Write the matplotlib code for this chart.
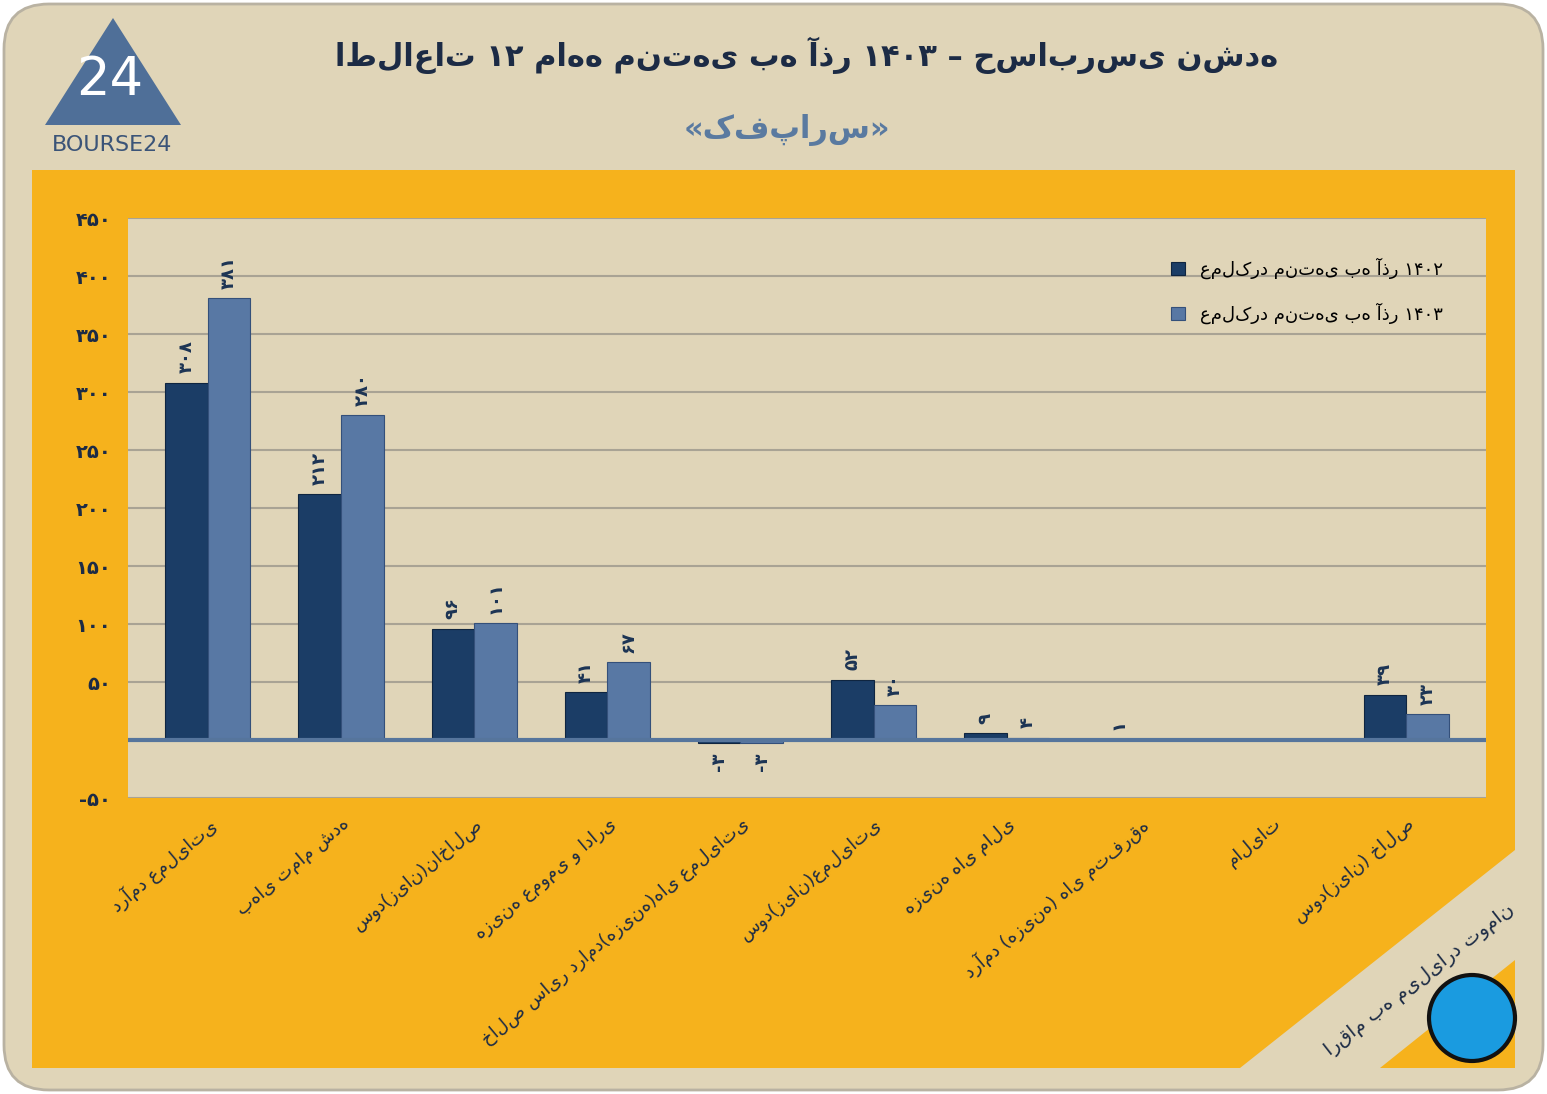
import matplotlib
matplotlib.use("Agg")
import matplotlib.pyplot as plt
from matplotlib.patches import FancyBboxPatch, Rectangle, Polygon
import numpy as np

categories = ["درآمد عملیاتی", "بهای تمام شده", "سود(زیان)ناخالص", "هزینه عمومی و اداری",
              "خالص سایر درامد(هزینه)های عملیاتی", "سود(زیان)عملیاتی", "هزینه های مالی",
              "درآمد (هزینه) های متفرقه", "مالیات", "سود(زیان) خالص"]
v1402 = [308, 212, 96, 41, -3, 52, 6, 1, 0, 39]
v1403 = [381, 280, 101, 67, -3, 30, 2, 0, 0, 22]
labels1402 = ["۳۰۸", "۲۱۲", "۹۶", "۴۱", "-۳", "۵۲", "۹", "۱", "", "۳۹"]
labels1403 = ["۳۸۱", "۲۸۰", "۱۰۱", "۶۷", "-۳", "۳۰", "۴", "", "", "۲۳"]
yticks = [-50, 0, 50, 100, 150, 200, 250, 300, 350, 400, 450]
yticklabels = ["-۵۰", "", "۵۰", "۱۰۰", "۱۵۰", "۲۰۰", "۲۵۰", "۳۰۰", "۳۵۰", "۴۰۰", "۴۵۰"]
series_names = ["عملکرد منتهی به آذر ۱۴۰۲", "عملکرد منتهی به آذر ۱۴۰۳"]

W, H = 1547, 1094
fig = plt.figure(figsize=(W/100, H/100), dpi=100)
fig.patch.set_facecolor("white")
bg = fig.add_axes([0, 0, 1, 1]); bg.set_xlim(0, W); bg.set_ylim(H, 0); bg.axis("off")
bg.add_patch(FancyBboxPatch((4, 4), W-8, H-8, boxstyle="round,pad=0,rounding_size=45",
                            fc="#e0d5b8", ec="#b9b2a2", lw=2))
bg.add_patch(Rectangle((32, 170), 1483, 898, fc="#f6b21c", ec="none"))
bg.add_patch(Polygon([[1240, 1068], [1515, 850], [1515, 960], [1380, 1068]], fc="#e0d5b8", ec="none"))
bg.text(807, 55, "اطلاعات ۱۲ ماهه منتهی به آذر ۱۴۰۳ – حسابرسی نشده", ha="center", va="center",
        fontsize=22, fontweight="bold", color="#1c2b45", family="DejaVu Sans")
bg.text(787, 130, "«کفپارس»", ha="center", va="center", fontsize=22, fontweight="bold", color="#5a7aa0")
bg.add_patch(Polygon([[45, 125], [113, 18], [181, 125]], fc="#4f6f98", ec="none"))
bg.text(110, 80, "24", ha="center", va="center", fontsize=38, color="white")
bg.text(112, 145, "BOURSE24", ha="center", va="center", fontsize=16, color="#3b5478")
bg.text(1420, 980, "ارقام به میلیارد تومان", ha="center", va="center", fontsize=14,
        rotation=38, color="#1c2b45")
bg.add_patch(plt.Circle((1472, 1018), 43, fc="#1a9be0", ec="#111", lw=3))

ax = fig.add_axes([128/W, 1-798/H, (1486-128)/W, (798-218)/H])
ax.set_facecolor("#e0d5b8")
x = np.arange(len(categories))
w = 0.32
c1, c2 = "#1b3d66", "#5878a4"
b1 = ax.bar(x - w/2, v1402, w, color=c1, edgecolor="#0f2540", lw=0.8, label=series_names[0], zorder=3)
b2 = ax.bar(x + w/2, v1403, w, color=c2, edgecolor="#34507a", lw=0.8, label=series_names[1], zorder=3)
ax.axhline(0, color="#56759c", lw=3, zorder=4)
for xs, vals, labs in ((x - w/2, v1402, labels1402), (x + w/2, v1403, labels1403)):
    for xi, v, t in zip(xs, vals, labs):
        if t:
            ax.text(xi, v + 8 if v >= 0 else v - 8, t, rotation=90, ha="center",
                    va="bottom" if v >= 0 else "top", fontsize=13, fontweight="bold", color="#1c3454")
ax.set_ylim(-50, 450)
ax.set_xlim(-0.6, len(categories) - 0.4)
ax.set_yticks(yticks)
ax.set_yticklabels(yticklabels, fontsize=14, fontweight="bold", color="#1c2b45")
ax.yaxis.grid(True, color="#a9a394", lw=1.5, zorder=0)
ax.set_xticks(x)
ax.set_xticklabels(categories, rotation=40, ha="right", rotation_mode="anchor", fontsize=13, color="#1c2b45")
ax.tick_params(length=0, pad=12)
for s in ax.spines.values():
    s.set_visible(False)
leg = ax.legend(loc="upper right", bbox_to_anchor=(0.98, 0.96), frameon=False, fontsize=13,
                labelspacing=1.3, handlelength=0.8)
plt.savefig("out.png", dpi=100, facecolor=fig.get_facecolor())
